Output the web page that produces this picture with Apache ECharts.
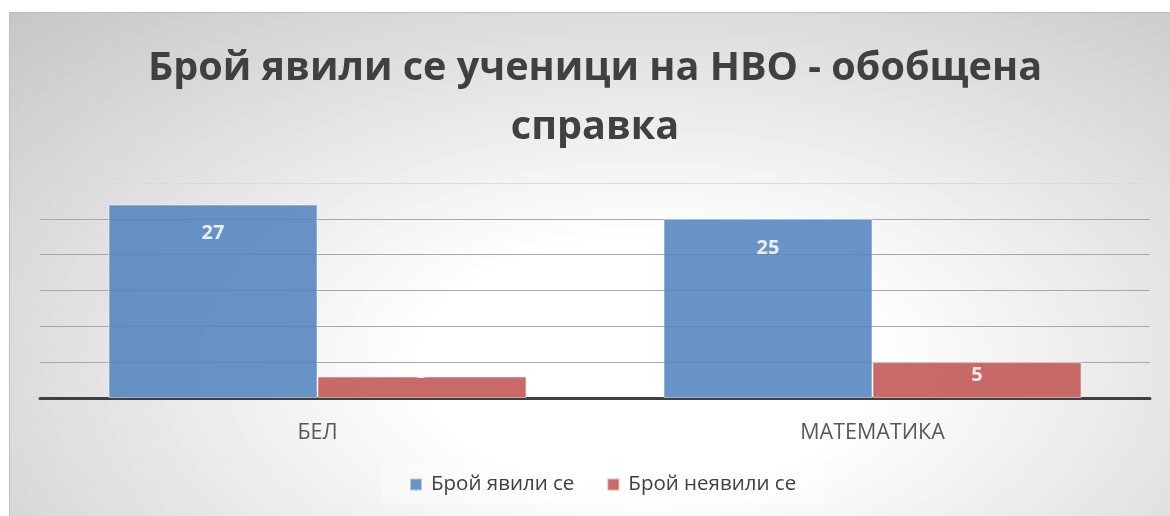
<!DOCTYPE html>
<html><head><meta charset="utf-8">
<script src="https://cdn.jsdelivr.net/npm/echarts@6/dist/echarts.min.js"></script>
<style>
html,body{margin:0;padding:0;background:#fff;width:1170px;height:516px;overflow:hidden}
#bg{position:absolute;left:9px;top:12px;width:1161px;height:504px;box-sizing:border-box;border-left:1px solid #bdbdbd;border-top:1px solid #bdbdbd;
background:radial-gradient(ellipse farthest-corner at 55% 70%, #ffffff 0%, #ffffff 25%, #c6c6c6 100%);}
#chart{position:absolute;left:0;top:0;width:1170px;height:516px}
</style></head>
<body><div id="bg"></div><div id="chart"></div>
<script>
const titleText = 'Брой явили се ученици на НВО - обобщена\nсправка';
const categories = ['БЕЛ', 'МАТЕМАТИКА'];
const seriesNames = ['Брой явили се', 'Брой неявили се'];
const present = [27, 25];
const absent = [3, 5];
const yMin = 0, yMax = 30, yStep = 5;

const chart = echarts.init(document.getElementById('chart'), null, {renderer:'canvas'});
const labelBase = {show:true, position:'insideTop', distance:19, color:'#ffffff', fontSize:20, fontWeight:'bold', fontFamily:'Open Sans'};
chart.setOption({
  backgroundColor:'transparent',
  title:{text:titleText, left:590, textAlign:'center', top:34,
    textStyle:{fontSize:39.6, fontWeight:'bold', fontFamily:'Open Sans', color:'#404040', lineHeight:59}},
  legend:{data:seriesNames, left:381, top:465, itemWidth:12, itemHeight:12, itemGap:32, icon:'rect',
    padding:[9,28,9,28], backgroundColor:'rgba(255,255,255,0.3)',
    textStyle:{fontSize:20.5, fontFamily:'Open Sans', color:'#404040', padding:[0,0,0,4]}},
  grid:{left:40, right:20, top:183, bottom:118, containLabel:false},
  xAxis:{type:'category', data:categories,
    axisLine:{lineStyle:{color:'#404040', width:3}}, axisTick:{show:false},
    axisLabel:{fontSize:21.5, fontFamily:'Open Sans', color:'#595959', margin:24}},
  yAxis:{type:'value', min:yMin, max:yMax, interval:yStep, axisLabel:{show:false}, axisLine:{show:false}, axisTick:{show:false},
    splitLine:{lineStyle:{color:['#a8a8a8','#a8a8a8','#a8a8a8','#a8a8a8','#a8a8a8','#a8a8a8','#dadada'], width:1.2}}},
  series:[
    {name:seriesNames[0], type:'bar', data:present, barWidth:209, barGap:'0%',
     itemStyle:{color:'#4f81bd', opacity:0.85, borderColor:'rgba(255,255,255,0.6)', borderWidth:1},
     label:labelBase},
    {name:seriesNames[1], type:'bar',
     data:absent.map((v,i)=>({value:v, label: i===0 ? {offset:[0,-33]} : {distance:3}})),
     barWidth:209,
     itemStyle:{color:'#c0504d', opacity:0.85, borderColor:'rgba(255,255,255,0.6)', borderWidth:1},
     label:labelBase}
  ]
});
</script></body></html>
